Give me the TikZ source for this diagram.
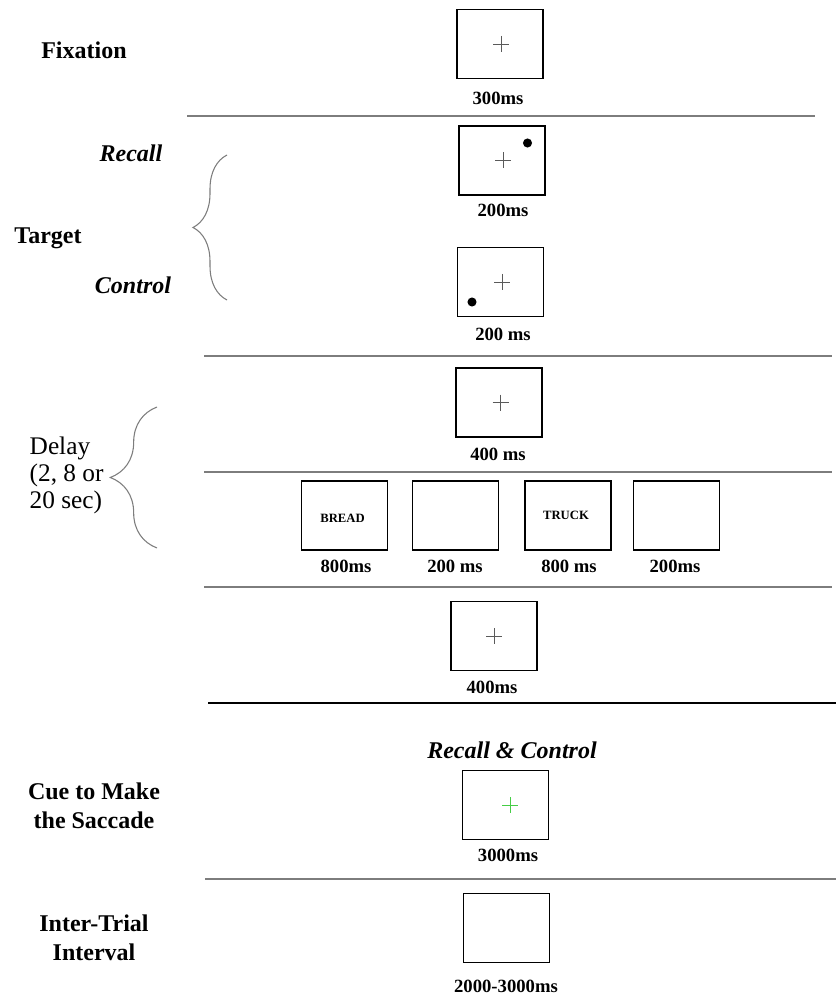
\documentclass[tikz,border=0pt]{standalone}
\usepackage{fontspec}
\setmainfont{Liberation Serif}
\usetikzlibrary{decorations.pathreplacing}
\definecolor{cuegreen}{RGB}{70,205,70}
\definecolor{rulegray}{RGB}{125,125,125}
\definecolor{crossgray}{RGB}{90,90,90}

\begin{document}
\begin{tikzpicture}[x=0.75pt,y=-0.75pt,
  screen/.style={draw,line width=1.1pt,minimum width=64.5pt,minimum height=52pt,inner sep=0pt},
  target dot/.style={circle,fill,minimum size=6.8pt,inner sep=0pt},
  phase label/.style={font=\fontsize{18}{21.75}\selectfont\bfseries,align=center,anchor=base},
  cond label/.style={font=\fontsize{18}{21}\selectfont\bfseries\itshape,anchor=base},
  time label/.style={font=\fontsize{14}{16}\selectfont\bfseries,anchor=base},
  word/.style={font=\fontsize{9.5}{11}\selectfont\bfseries,anchor=base},
  separator/.style={line width=1.5pt,rulegray},
  brace line/.style={decorate,line width=0.8pt,rulegray},
  fix cross/.style={crossgray,line width=0.7pt}]
  \useasboundingbox (0,0) rectangle (836,1005);

  % screens
  \node[screen] (s1) at (500,44) {};
  \node[screen] (s2) at (502,160.5) {};
  \node[screen] (s3) at (500.5,282) {};
  \node[screen] (s4) at (499,402.5) {};
  \node[screen] (s5) at (344.5,515.5) {};
  \node[screen] (s6) at (455.5,515.5) {};
  \node[screen] (s7) at (568,515.5) {};
  \node[screen] (s8) at (676.5,515.5) {};
  \node[screen] (s9) at (494,636) {};
  \node[screen] (s10) at (505.5,805) {};
  \node[screen] (s11) at (506.5,928) {};

  % fixation crosses and targets
  \foreach \s/\dx in {s1/1,s2/1,s3/1.5,s4/1.5,s9/0}
    \draw[fix cross] (\s.center) ++(\dx-8,0) -- ++(16,0)
                     (\s.center) ++(\dx,-8) -- ++(0,16);
  \draw[cuegreen,line width=0.7pt] (s10.center) ++(-3.5,0) -- ++(16,0)
                                   (s10.center) ++(4.5,-8) -- ++(0,16);
  \node[target dot] (d1) at (527.5,143) {};
  \node[target dot] (d2) at (472,302) {};
  \node[word] (w1) at (342.5,522) {BREAD};
  \node[word] (w2) at (566,519) {TRUCK};

  % durations
  \node[time label] (t1) at (498,105) {300ms};
  \node[time label] (t2) at (503,217) {200ms};
  \node[time label] (t3) at (503,340) {200 ms};
  \node[time label] (t4) at (498,460) {400 ms};
  \node[time label] (t5) at (346,572) {800ms};
  \node[time label] (t6) at (455,572) {200 ms};
  \node[time label] (t7) at (569,572) {800 ms};
  \node[time label] (t8) at (675,572) {200ms};
  \node[time label] (t9) at (492,693) {400ms};
  \node[time label] (t10) at (508,861) {3000ms};
  \node[time label] (t11) at (506,992) {2000-3000ms};

  % phase names
  \node[phase label] (fix) at (84,59) {Fixation};
  \node[phase label] (tgt) at (48,244) {Target};
  \node[cond label] (rec) at (131,162) {Recall};
  \node[cond label] (con) at (133,293) {Control};
  \node[font=\fontsize{19}{20.25}\selectfont,align=left,anchor=base west] (del) at (25,508)
    {Delay\\(2, 8 or\\20 sec)};
  \node[phase label] (cue) at (94,828) {Cue to Make\\the Saccade};
  \node[phase label] (iti) at (94,960) {Inter-Trial\\Interval};
  \node[cond label] (rc) at (512,758) {Recall \& Control};

  % braces
  \draw[brace line,decoration={brace,amplitude=25.5pt}] (227,300) -- (227,155);
  \draw[brace line,decoration={brace,amplitude=35pt}] (157,548) -- (157,407);

  % separators
  \draw[separator] (187,116) -- (815,116);
  \draw[separator] (204,356) -- (832,356);
  \draw[separator] (204,472) -- (832,472);
  \draw[separator] (204,587) -- (832,587);
  \draw[separator,black] (208,703) -- (836,703);
  \draw[separator] (205,879) -- (836,879);
\end{tikzpicture}
\end{document}
